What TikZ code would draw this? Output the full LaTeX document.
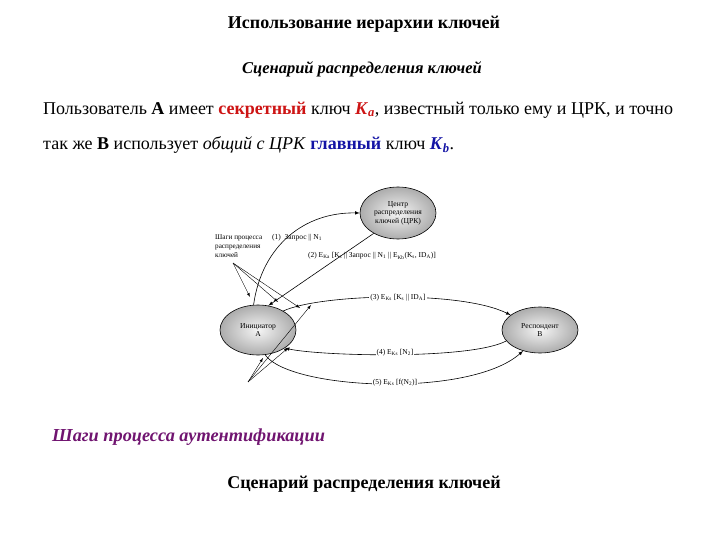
\documentclass[tikz,border=0pt]{standalone}
\usepackage{fontspec}
\setmainfont{Liberation Serif}
\usetikzlibrary{arrows,shapes.geometric}
\definecolor{keyred}{RGB}{205,20,20}
\definecolor{keyblue}{RGB}{20,20,165}
\definecolor{steppurple}{RGB}{112,20,112}

\begin{document}
\begin{tikzpicture}[x=1pt,y=-1pt]
\tikzset{ >=latex,
  party/.style={ellipse, draw, semithick, inner color=gray!8, outer color=gray!65,
    minimum width=76pt, minimum height=52pt, inner sep=0pt, align=center,
    font=\fontsize{7.6}{8.6}\selectfont},
  msg/.style={fill=white, inner sep=1pt, font=\fontsize{7.5}{8.5}\selectfont},
  flow/.style={->, semithick},
  hint/.style={->, thin},
  heading/.style={font=\fontsize{18}{20}\selectfont\bfseries},
  body/.style={anchor=west, inner sep=0pt, font=\fontsize{18}{20}\selectfont},
}

\useasboundingbox (0,0) rectangle (720,540);

% headings
\node [heading] (title) at (364,24) {Использование иерархии ключей};
\node [heading, font=\fontsize{16.5}{20}\selectfont\bfseries\itshape] (scen) at (362,69) {Сценарий распределения ключей};

\node [body] (line1) at (43,110) {Пользователь \textbf{А} имеет \textcolor{keyred}{\textbf{секретный}} ключ \textcolor{keyred}{\textbf{\textit{K}}\textsubscript{\textbf{\textit{a}}}}, известный только ему и ЦРК, и точно};
\node [body] (line2) at (43,145) {так же \textbf{B} использует \textit{общий с ЦРК} \textcolor{keyblue}{\textbf{главный}} ключ \textcolor{keyblue}{\textbf{\textit{K}}\textsubscript{\textbf{\textit{b}}}}.};

% parties
\node [party] (C) at (398,213) {Центр\\распределения\\ключей (ЦРК)};
\node [party, minimum height=50pt] (A) at (258,330) {Инициатор\\А};
\node [party, minimum height=46pt] (B) at (540,330) {Респондент\\В};

% messages
\draw [flow] (A.100) .. controls (262,245) and (305,212) .. (C.west);
\node [msg, fill=none] (m1) at (297,238) {(1)~~Запрос || N\textsubscript{1}};

\draw [flow] (C.220) -- (A.67);
\node [msg, fill=none] (m2) at (372,256) {(2) E\textsubscript{Ka} [K\textsubscript{s} || Запрос || N\textsubscript{1} || E\textsubscript{Kb}(K\textsubscript{s}, ID\textsubscript{A})]};

\draw [flow] (A.37) .. controls (320,294) and (460,290) .. (B.153);
\node [msg] (m3) at (398,298) {(3) E\textsubscript{Ks} [K\textsubscript{s} || ID\textsubscript{A}]};

\draw [flow] (B.198) .. controls (470,360) and (320,356) .. (A.326);
\node [msg] (m4) at (395,353) {(4) E\textsubscript{Ks} [N\textsubscript{2}]};

\draw [flow] (A.286) .. controls (290,390) and (470,398) .. (B.231);
\node [msg] (m5) at (395,383) {(5) E\textsubscript{Ks} [f(N\textsubscript{2})]};

% step pointers
\node [anchor=north west, inner sep=0pt, align=left, font=\fontsize{7.2}{8.8}\selectfont] (steps) at (215,235) {Шаги процесса\\распределения\\ключей};
\coordinate (s0) at (233,263);
\coordinate (s1) at (250,297);
\coordinate (s2) at (278,302);
\coordinate (s3) at (300,308);
\draw [hint] (s0) -- (s1);
\draw [hint] (s0) -- (s2);
\draw [hint] (s0) -- (s3);

\coordinate (t0) at (248,382);
\coordinate (t1) at (263,358);
\coordinate (t2) at (288,348);
\coordinate (t3) at (311,305);
\draw [hint] (t0) -- (t1);
\draw [hint] (t0) -- (t2);
\draw [hint] (t0) -- (t3);

% captions
\node [anchor=west, inner sep=0pt, text=steppurple, font=\fontsize{18.3}{20}\selectfont\bfseries\itshape] (auth) at (52,437) {Шаги процесса аутентификации};
\node [heading] (scen2) at (364,484) {Сценарий распределения ключей};

\end{tikzpicture}
\end{document}
